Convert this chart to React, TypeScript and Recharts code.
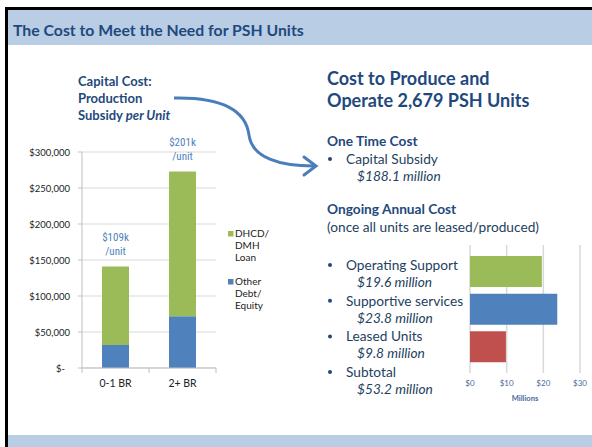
import React from "react";
import { BarChart, Bar, XAxis, YAxis, CartesianGrid, Cell, LabelList } from "recharts";

// left chart: production subsidy per unit
const categories = ["0-1 BR", "2+ BR"];
const otherDebt = [32000, 72000];
const dhcdLoan = [109000, 201000];
const perUnitLabels = ["$109k", "$201k"];
const yTicks = [0, 50000, 100000, 150000, 200000, 250000, 300000];

// right chart: ongoing annual cost (millions)
const costItems = ["Operating Support", "Supportive services", "Leased Units"];
const costValues = [19.6, 23.8, 9.8];
const costAmounts = ["$19.6 million", "$23.8 million", "$9.8 million"];
const costColors = ["#9bbb59", "#4f81bd", "#c0504d"];
const xTicks = [0, 10, 20, 30];

const FONT = "Lato, 'Open Sans', sans-serif";
const NARROW = "'Liberation Sans Narrow', 'Roboto Condensed', Lato, sans-serif";
const NAVY = "#1f497d";
const TXT = "#243f60";

const leftData = categories.map((name, i) => ({
  name,
  other: otherDebt[i],
  loan: dhcdLoan[i],
  perUnit: perUnitLabels[i],
}));

const rightData = costItems.map((name, i) => ({ name, value: costValues[i] }));

const money = (v: number) => (v === 0 ? "$-" : "$" + v.toLocaleString("en-US"));

const YTick = (props: any) => {
  const { x, y, payload } = props;
  const zero = payload.value === 0;
  return (
    <text x={zero ? x - 5 : x} y={y} dy={3.5} textAnchor="end" fontSize={9.5} fill="#222" fontFamily={FONT}>
      {money(payload.value)}
    </text>
  );
};

const XTick = (props: any) => {
  const { x, y, payload, index } = props;
  const half = payload.offset || 33.5;
  const axisY = y - 9;
  return (
    <g>
      <line x1={x - half} x2={x - half} y1={axisY} y2={axisY + 5} stroke="#bfbfbf" />
      {index === categories.length - 1 && (
        <line x1={x + half} x2={x + half} y1={axisY} y2={axisY + 5} stroke="#bfbfbf" />
      )}
      <text x={x} y={y} dy={10} textAnchor="middle" fontSize={10.5} fill="#222" fontFamily={FONT}>
        {payload.value}
      </text>
    </g>
  );
};

const PerUnitLabel = (props: any) => {
  const { x, y, width, value } = props;
  const cx = x + width / 2;
  return (
    <g fontFamily={NARROW} fontSize={11} fill="#4f81bd" textAnchor="middle">
      <text x={cx} y={y - 25}>{value}</text>
      <text x={cx} y={y - 11}>/unit</text>
    </g>
  );
};

function Backdrop() {
  const bullet = (x: number, y: number) => <circle cx={x} cy={y} r={2} fill={NAVY} />;
  const lines: { label: string; amount: string }[] = [
    ...costItems.map((c, i) => ({ label: c, amount: costAmounts[i] })),
    { label: "Subtotal", amount: "$53.2 million" },
  ];
  return (
    <svg width={592} height={447} style={{ position: "absolute", left: 0, top: 0 }}>
      <rect x={0} y={0} width={592} height={447} fill="#fff" />
      <rect x={8} y={10} width={584} height={35} fill="#b9cde5" />
      <rect x={8} y={435} width={584} height={12} fill="#b9cde5" />
      <rect x={5} y={7} width={587} height={3} fill="#000" />
      <rect x={5} y={7} width={3} height={440} fill="#000" />
      <text x={13} y={36} fontFamily={FONT} fontWeight={700} fontSize={15.8} fill={NAVY}>
        The Cost to Meet the Need for PSH Units
      </text>

      <g fontFamily={FONT} fontWeight={700} fontSize={13} fill={NAVY}>
        <text x={78} y={86}>Capital Cost:</text>
        <text x={78} y={103}>Production</text>
        <text x={78} y={120}>
          Subsidy <tspan fontStyle="italic">per Unit</tspan>
        </text>
      </g>

      <path d="M174 98 C 225 97, 246 112, 249 135 C 252 158, 280 166, 314 166"
        fill="none" stroke="#4a7ebb" strokeWidth={3} />
      <path d="M304 157 L 316 166 L 304 175" fill="none" stroke="#4a7ebb" strokeWidth={3} strokeLinecap="round" />

      <g fontFamily={FONT} fontWeight={700} fontSize={18} fill={NAVY}>
        <text x={327} y={85}>Cost to Produce and</text>
        <text x={327} y={107}>Operate 2,679 PSH Units</text>
      </g>

      <g fontFamily={FONT} fontSize={13.7} fill={TXT}>
        <text x={327} y={146} fontWeight={700} fill={NAVY}>One Time Cost</text>
        {bullet(330, 159)}
        <text x={346} y={164}>Capital Subsidy</text>
        <text x={357} y={181} fontStyle="italic">$188.1 million</text>
        <text x={327} y={214} fontWeight={700} fill={NAVY}>Ongoing Annual Cost</text>
        <text x={327} y={232}>(once all units are leased/produced)</text>
        {lines.map((l, i) => (
          <g key={l.label}>
            {bullet(330, 265 + i * 35.7)}
            <text x={346} y={270 + i * 35.7}>{l.label}</text>
            <text x={357} y={287 + i * 35.7} fontStyle="italic">{l.amount}</text>
          </g>
        ))}
      </g>

      <g fontFamily={FONT} fontSize={10} fill="#222">
        <rect x={228} y={231} width={5.5} height={5.5} fill="#9bbb59" />
        <text x={235} y={237}>DHCD/</text>
        <text x={235} y={249}>DMH</text>
        <text x={235} y={261}>Loan</text>
        <rect x={228} y={279} width={5.5} height={5.5} fill="#4f81bd" />
        <text x={235} y={285}>Other</text>
        <text x={235} y={297}>Debt/</text>
        <text x={235} y={309}>Equity</text>
      </g>
    </svg>
  );
}

export default function App() {
  return (
    <div style={{ position: "absolute", left: 0, top: 0, width: 592, height: 447, overflow: "hidden" }}>
      <Backdrop />

      <div style={{ position: "absolute", left: 0, top: 122 }}>
        <BarChart width={240} height={276} data={leftData} margin={{ top: 30, right: 24, bottom: 0, left: 0 }}>
          <CartesianGrid vertical={false} stroke="#d9d9d9" />
          <XAxis dataKey="name" stroke="#bfbfbf" tickLine={false} tickSize={5} tickMargin={4} height={30}
            tick={<XTick />} interval={0} />
          <YAxis width={82} domain={[0, 300000]} ticks={yTicks} stroke="#bfbfbf" tickSize={4} tickMargin={8}
            tick={<YTick />} interval={0} />
          <Bar dataKey="other" stackId="a" fill="#4f81bd" barSize={27} isAnimationActive={false} />
          <Bar dataKey="loan" stackId="a" fill="#9bbb59" barSize={27} isAnimationActive={false}>
            <LabelList dataKey="perUnit" content={<PerUnitLabel />} />
          </Bar>
        </BarChart>
      </div>

      <div style={{ position: "absolute", left: 440, top: 230 }}>
        <BarChart width={152} height={180} data={rightData} layout="vertical"
          margin={{ top: 15, right: 12, bottom: 7, left: 30 }}>
          <CartesianGrid horizontal={false} stroke="#d9d9d9" strokeWidth={1.5} />
          <XAxis type="number" domain={[0, 30]} ticks={xTicks} axisLine={false} tickLine={false}
            tickSize={0} tickMargin={7} height={30} interval={0}
            tick={{ fontSize: 8, fill: "#4a6a9a", fontFamily: FONT }}
            tickFormatter={(v: number) => "$" + v}
            label={{ value: "Millions", position: "insideBottom", offset: 2, fontSize: 7.5, fontWeight: 700,
              fill: "#4a6a9a", fontFamily: FONT }} />
          <YAxis type="category" dataKey="name" hide padding={{ top: 8, bottom: 7 }} />
          <Bar dataKey="value" barSize={31} isAnimationActive={false}>
            {rightData.map((d, i) => (
              <Cell key={d.name} fill={costColors[i]} />
            ))}
          </Bar>
        </BarChart>
      </div>
    </div>
  );
}
